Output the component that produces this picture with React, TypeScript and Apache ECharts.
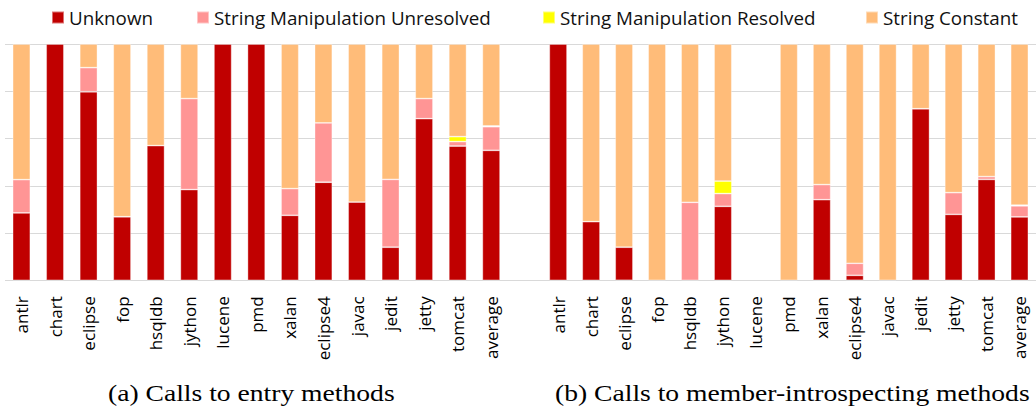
import React, { useEffect, useRef } from "react";
import * as echarts from "echarts";

const categories = ["antlr", "chart", "eclipse", "fop", "hsqldb", "jython", "lucene", "pmd", "xalan", "eclipse4", "javac", "jedit", "jetty", "tomcat", "average"];
const seriesNames = ["Unknown", "String Manipulation Unresolved", "String Manipulation Resolved", "String Constant"];
const seriesColors = ["#c00000", "#ff9595", "#ffff00", "#ffbc79"];

// (a) Calls to entry methods (percent)
const unknownA = [28.5, 100, 79.8, 26.9, 57.0, 38.4, 100, 100, 27.5, 41.5, 33.1, 14.0, 68.4, 56.8, 55.0];
const unresolvedA = [14.1, 0, 10.2, 0, 0, 38.5, 0, 0, 11.3, 25.1, 0, 28.7, 8.5, 1.9, 10.0];
const resolvedA = [0, 0, 0, 0, 0, 0, 0, 0, 0, 0, 0, 0, 0, 2.1, 0.3];
const constantA = [57.4, 0, 10.0, 73.1, 43.0, 23.1, 0, 0, 61.2, 33.4, 66.9, 57.3, 23.1, 39.2, 34.7];

// (b) Calls to member-introspecting methods (percent)
const unknownB = [100, 24.8, 14.0, 0, 0, 31.3, 0, 0, 34.1, 2.1, 0, 72.6, 27.9, 42.7, 26.8];
const unresolvedB = [0, 0, 0, 0, 33.0, 5.4, 0, 0, 6.4, 5.1, 0, 0, 9.2, 1.2, 4.7];
const resolvedB = [0, 0, 0, 0, 0, 5.3, 0, 0, 0, 0, 0, 0, 0, 0, 0.3];
const constantB = [0, 75.2, 86.0, 100, 67.0, 58.0, 0, 100, 59.5, 92.8, 100, 27.4, 62.9, 56.1, 68.2];

const yMin = 0;
const yMax = 100;
const yInterval = 20;

const captionA = "(a) Calls to entry methods";
const captionB = "(b) Calls to member-introspecting methods";

const legendLefts = [46, 191, 537, 860];

export default function App() {
  const ref = useRef<HTMLDivElement>(null);
  useEffect(() => {
    if (!ref.current) return;
    const chart = echarts.init(ref.current, undefined, { renderer: "svg" });
    const panelA = [unknownA, unresolvedA, resolvedA, constantA];
    const panelB = [unknownB, unresolvedB, resolvedB, constantB];
    const fix = (arr: number[]) => arr.map((v) => (v === 0 ? "-" : v));
    const makeSeries = (panel: number[][], idx: number) =>
      panel.map((vals, i) => ({
        name: seriesNames[i],
        type: "bar",
        stack: "s" + idx,
        xAxisIndex: idx,
        yAxisIndex: idx,
        barWidth: 17.7,
        data: fix(vals),
        itemStyle: {
          color: seriesColors[i],
          borderColor: "rgba(255,255,255,0.45)",
          borderWidth: 0.8,
        },
      }));
    const labelStyle = {
      rotate: 90,
      margin: 16,
      fontSize: 17,
      fontFamily: "Open Sans",
      color: "#000",
      interval: 0,
    };
    const catAxis = (gridIndex: number) => ({
      type: "category",
      gridIndex,
      data: categories,
      axisLine: { show: false },
      axisTick: { show: false },
      axisLabel: labelStyle,
    });
    const valAxis = (gridIndex: number, lines: boolean) => ({
      type: "value",
      gridIndex,
      min: yMin,
      max: yMax,
      interval: yInterval,
      show: lines,
      axisLine: { show: false },
      axisTick: { show: false },
      axisLabel: { show: false },
      splitLine: { show: lines, lineStyle: { color: "#d9d9d9", width: 1 } },
    });
    const captionStyle = (text: string) => ({
      text,
      font: "24px 'Liberation Serif'",
      fill: "#000",
      align: "left",
      verticalAlign: "middle",
    });
    chart.setOption({
      animation: false,
      legend: seriesNames.map((n, i) => ({
        data: [n],
        left: legendLefts[i],
        top: 3,
        icon: "rect",
        itemWidth: 12,
        itemHeight: 12,
        itemGap: 5,
        textStyle: { fontSize: 18.8, fontFamily: "Open Sans", color: "#111" },
      })),
      grid: [
        { left: 4.7, top: 44, width: 503.3, height: 236.3 },
        { left: 541.7, top: 44, width: 503.3, height: 236.3 },
        { left: 5, top: 44, right: 0, height: 236.3 },
      ],
      xAxis: [catAxis(0), catAxis(1), { type: "value", gridIndex: 2, show: false }],
      yAxis: [valAxis(0, false), valAxis(1, false), valAxis(2, true)],
      series: [...makeSeries(panelA, 0), ...makeSeries(panelB, 1)],
      graphic: [
        { type: "text", x: 108, y: 393, scaleX: 1.15, style: captionStyle(captionA) },
        { type: "text", x: 555, y: 393, scaleX: 1.15, style: captionStyle(captionB) },
      ],
    });
    return () => chart.dispose();
  }, []);
  return (
    <div
      ref={ref}
      style={{ position: "absolute", left: 0, top: 0, width: 1036, height: 410 }}
    />
  );
}
